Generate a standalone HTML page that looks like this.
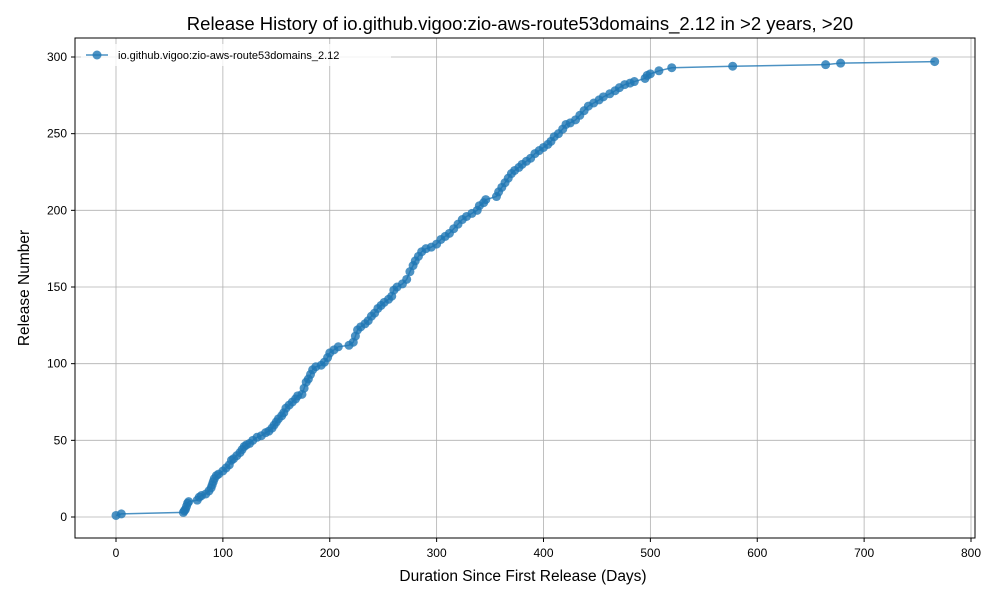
<!DOCTYPE html>
<html><head><meta charset="utf-8"><style>
body{margin:0;background:#fff;font-family:"Liberation Sans","DejaVu Sans",sans-serif}
svg{display:block}
</style></head><body>
<svg id="chart" width="1000" height="600" xmlns="http://www.w3.org/2000/svg">
<text x="520" y="30" text-anchor="middle" font-size="18.5">Release History of io.github.vigoo:zio-aws-route53domains_2.12 in &gt;2 years, &gt;20</text>
<text x="523" y="581" text-anchor="middle" font-size="15.5">Duration Since First Release (Days)</text>
<text transform="translate(29,288) rotate(-90)" text-anchor="middle" font-size="15.5">Release Number</text>
<g id="grid"></g><g id="series"></g>
<rect x="75" y="38" width="900" height="500" fill="none" stroke="#000" stroke-width="1"/>
<g>
<rect x="81" y="44" width="310" height="22" fill="#fff" fill-opacity="0.8" stroke="none"/>
<line x1="86" y1="55" x2="108" y2="55" stroke="#1f77b4" stroke-opacity="0.8" stroke-width="1.5"/>
<circle cx="97" cy="55" r="4.5" fill="#1f77b4" fill-opacity="0.8"/>
<text x="118" y="59" font-size="11">io.github.vigoo:zio-aws-route53domains_2.12</text>
</g>
</svg>
<script>
const days=[0,5,63,64,65,66,67,68,76,78,80,84,87,89,90,91,92,94,96,100,103,106,108,110,113,116,118,120,122,125,128,132,136,140,143,146,148,150,152,155,157,159,162,165,168,170,174,176,178,180,182,184,187,192,195,198,200,204,208,218,222,224,226,229,233,236,239,242,245,248,251,255,258,260,263,268,272,275,278,280,283,286,290,295,300,304,308,312,316,320,324,328,333,338,340,344,346,356,358,361,364,367,370,373,377,380,384,388,392,396,400,404,407,410,414,418,421,425,430,434,438,442,447,452,456,462,467,471,476,481,485,495,497,500,508,520,577,664,678,766];
const releases=[1,2,3,4,5,7,9,10,11,13,14,15,17,19,21,23,25,27,28,30,32,34,37,38,40,42,44,46,47,48,50,52,53,55,56,58,60,62,64,66,68,71,73,75,77,79,80,84,88,90,93,96,98,99,101,104,107,109,111,112,114,118,122,124,126,128,131,133,136,138,140,142,144,148,150,152,155,160,164,167,170,173,175,176,178,181,183,185,188,191,194,196,198,200,203,205,207,209,212,215,218,221,224,226,228,230,232,234,237,239,241,243,245,248,250,253,256,257,259,262,265,268,270,272,274,276,278,280,282,283,284,286,288,289,291,293,294,295,296,297];
const xTicks=[0,100,200,300,400,500,600,700,800];
const yTicks=[0,50,100,150,200,250,300];
const NS="http://www.w3.org/2000/svg";
const xs=d=>116+d*(971-116)/800;
const ys=v=>517-v*(517-57)/300;
const grid=document.getElementById('grid'),ser=document.getElementById('series');
function mk(t,a,p){const e=document.createElementNS(NS,t);for(const k in a)e.setAttribute(k,a[k]);p.appendChild(e);return e;}
xTicks.forEach(t=>{const x=xs(t);
 const l=mk('line',{x1:x,x2:x,y1:38,y2:538,stroke:'#b0b0b0','stroke-width':0.8},grid);
 
 
 mk('line',{x1:x,x2:x,y1:538,y2:542,stroke:'#000'},grid);
 const tx=mk('text',{x:x,y:557,'text-anchor':'middle','font-size':12},grid);tx.textContent=t;
 
 });
yTicks.forEach(t=>{const y=ys(t);
 const l=mk('line',{x1:75,x2:975,y1:y,y2:y,stroke:'#b0b0b0','stroke-width':0.8},grid);
 
 
 mk('line',{x1:71,x2:75,y1:y,y2:y,stroke:'#000'},grid);
 const tx=mk('text',{x:67,y:y+4,'text-anchor':'end','font-size':12},grid);tx.textContent=t;
 
 });
const pl=mk('polyline',{points:days.map((d,i)=>xs(d)+','+ys(releases[i])).join(' '),fill:'none',stroke:'#1f77b4','stroke-opacity':0.8,'stroke-width':1.5},ser);


days.forEach((d,i)=>{const c=mk('circle',{cx:xs(d),cy:ys(releases[i]),r:4.5,fill:'#1f77b4','fill-opacity':0.8},ser);
 
 });
</script>
</body></html>
